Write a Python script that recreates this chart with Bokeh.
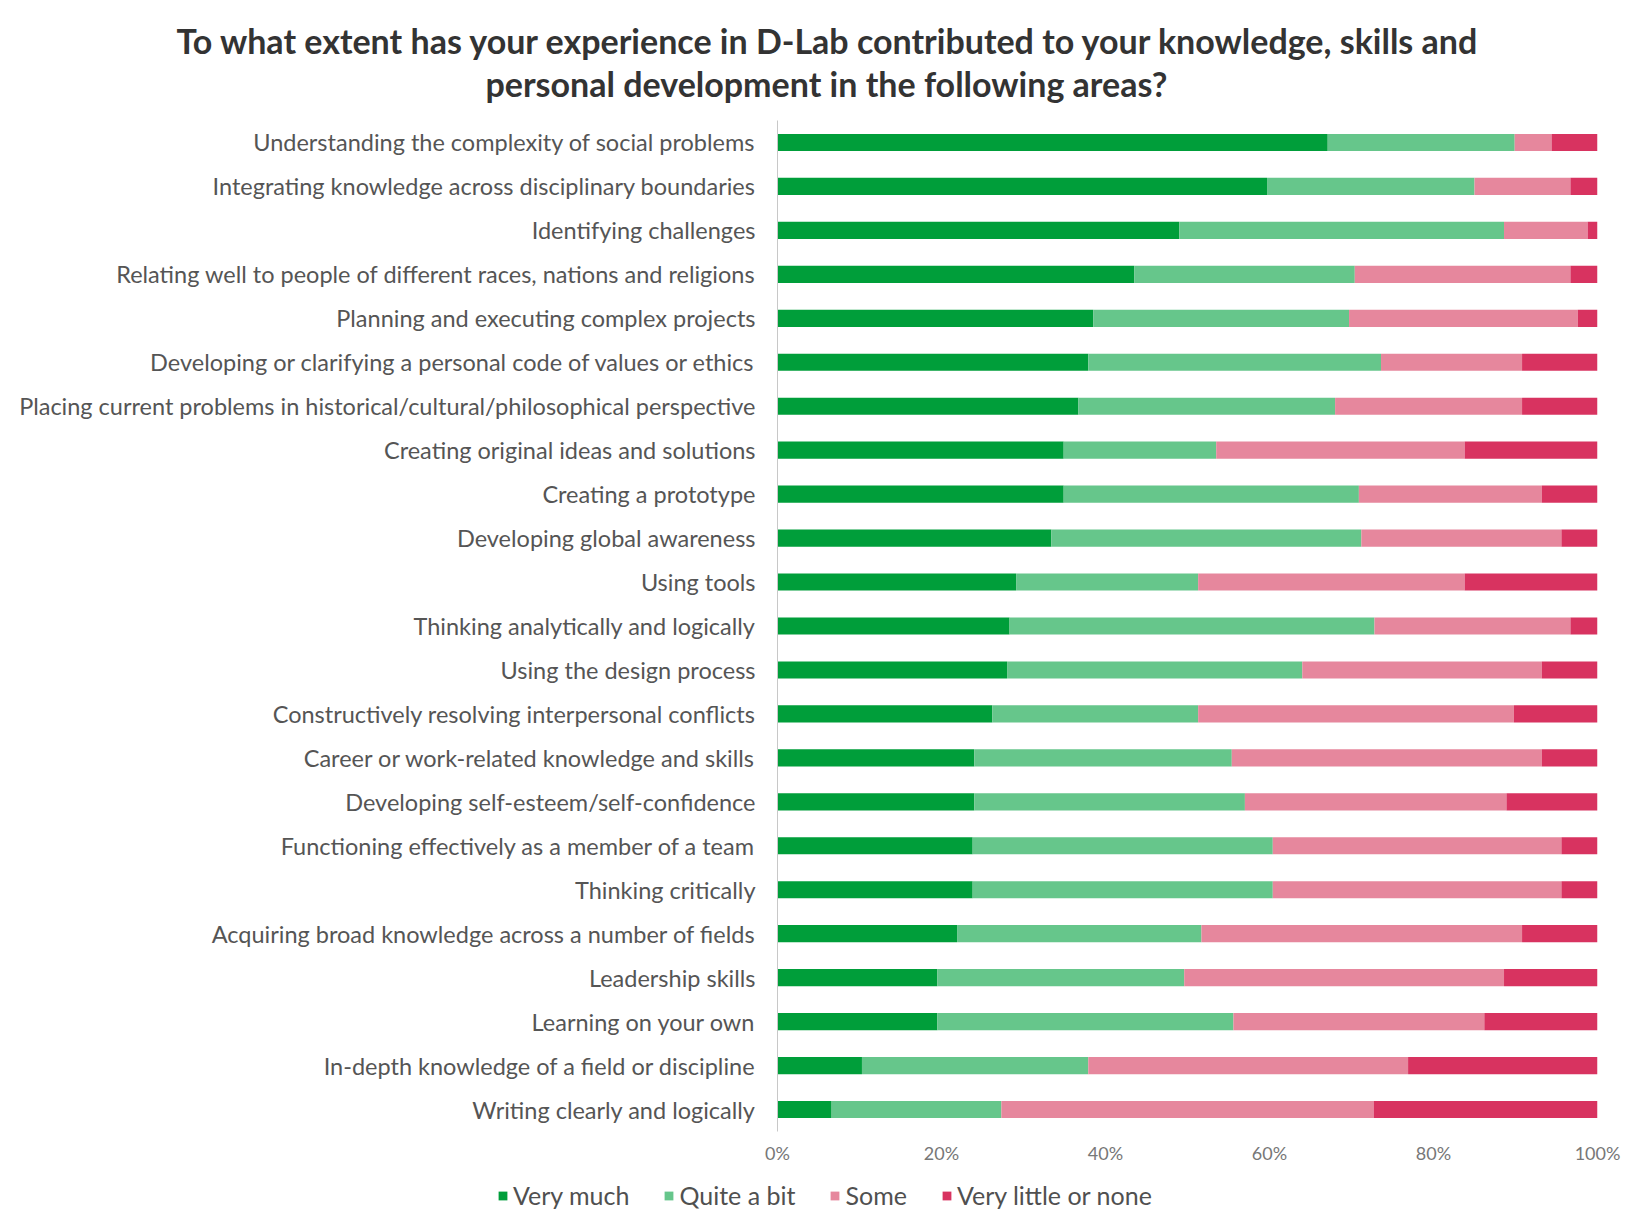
from bokeh.plotting import figure
from bokeh.layouts import column
from bokeh.models import (FactorRange, Range1d, FixedTicker, PrintfTickFormatter,
                          Title, Legend, LegendItem, ColumnDataSource)
from bokeh.embed import file_html
from bokeh.resources import INLINE

# ---------------- data (top row first) ----------------
areas = [
    "Understanding the complexity of social problems",
    "Integrating knowledge across disciplinary boundaries",
    "Identifying challenges",
    "Relating well to people of different races, nations and religions",
    "Planning and executing complex projects",
    "Developing or clarifying a personal code of values or ethics",
    "Placing current problems in historical/cultural/philosophical perspective",
    "Creating original ideas and solutions",
    "Creating a prototype",
    "Developing global awareness",
    "Using tools",
    "Thinking analytically and logically",
    "Using the design process",
    "Constructively resolving interpersonal conflicts",
    "Career or work-related knowledge and skills",
    "Developing self-esteem/self-confidence",
    "Functioning effectively as a member of a team",
    "Thinking critically",
    "Acquiring broad knowledge across a number of fields",
    "Leadership skills",
    "Learning on your own",
    "In-depth knowledge of a field or discipline",
    "Writing clearly and logically",
]
very_much = [67.1, 59.7, 49.0, 43.5, 38.5, 37.9, 36.7, 34.9, 34.9, 33.4, 29.1, 28.3,
             28.0, 26.2, 24.0, 24.0, 23.8, 23.8, 21.9, 19.5, 19.5, 10.3, 6.6]
quite_a_bit = [22.8, 25.3, 39.6, 26.9, 31.2, 35.7, 31.3, 18.6, 36.0, 37.8, 22.2, 44.5,
               36.0, 25.1, 31.4, 33.0, 36.6, 36.6, 29.8, 30.1, 36.1, 27.6, 20.7]
some = [4.5, 11.7, 10.2, 26.3, 27.9, 17.2, 22.8, 30.3, 22.3, 24.4, 32.5, 23.9,
        29.2, 38.5, 37.8, 31.9, 35.2, 35.2, 39.1, 39.0, 30.6, 39.0, 45.4]
very_little = [5.6, 3.3, 1.2, 3.3, 2.4, 9.2, 9.2, 16.2, 6.8, 4.4, 16.2, 3.3,
               6.8, 10.2, 6.8, 11.1, 4.4, 4.4, 9.2, 11.4, 13.8, 23.1, 27.3]
series = ["Very much", "Quite a bit", "Some", "Very little or none"]
x_ticks = [0, 20, 40, 60, 80, 100]
title_lines = ["To what extent has your experience in D-Lab contributed to your knowledge, skills and",
               "personal development in the following areas?"]

colors = ["#009E3A", "#66C68B", "#E6879D", "#D83360"]
keys = ["vm", "qb", "so", "vl"]

source = ColumnDataSource(dict(area=areas, vm=very_much, qb=quite_a_bit, so=some, vl=very_little))

W = 1634
p = figure(width=W, height=1170, output_backend="svg", toolbar_location=None,
           y_range=FactorRange(factors=areas[::-1]), x_range=Range1d(0, 100),
           min_border_left=777, min_border_right=37, min_border_top=120, min_border_bottom=39,
           outline_line_color=None, background_fill_color="white", border_fill_color="white")
p.frame_align = False
p.grid.visible = False

renderers = p.hbar_stack(keys, y="area", height=0.39, color=colors, line_color=None, source=source)

# y axis
yax = p.yaxis[0]
yax.axis_line_color = "#c8c8c8"
yax.axis_line_width = 1
yax.major_tick_line_color = None
yax.minor_tick_line_color = None
yax.major_label_text_font = "Lato"
yax.major_label_text_font_size = "23.5px"
yax.major_label_text_color = "#555555"
yax.major_label_standoff = 16

# x axis
xax = p.xaxis[0]
xax.axis_line_color = None
xax.major_tick_line_color = None
xax.minor_tick_line_color = None
xax.ticker = FixedTicker(ticks=x_ticks)
xax.formatter = PrintfTickFormatter(format="%d%%")
xax.major_label_text_font = "Lato"
xax.major_label_text_font_size = "18px"
xax.major_label_text_color = "#777777"
xax.major_label_standoff = 4

# title: two lines in the top panel (second line added first = closest to frame)
t2 = Title(text=title_lines[1], align="left", offset=-292, standoff=34, text_font="Lato",
           text_font_style="bold", text_font_size="34px", text_color="#333333")
t1 = Title(text=title_lines[0], align="left", offset=-601, standoff=-34, text_font="Lato",
           text_font_style="bold", text_font_size="34px", text_color="#333333")
p.add_layout(t2, "above")
p.add_layout(t1, "above")

# legend strip below the chart (swatches come from zero-height copies of the bars)
pl = figure(width=W, height=45, output_backend="svg", toolbar_location=None,
            x_range=Range1d(0, 100), y_range=FactorRange(factors=areas[::-1]),
            min_border_left=0, min_border_right=0, min_border_top=0, min_border_bottom=0,
            outline_line_color=None, background_fill_color="white", border_fill_color="white")
pl.frame_align = False
pl.axis.visible = False
pl.grid.visible = False
leg_renderers = pl.hbar_stack(keys, y="area", height=0.0, color=colors, line_color=None,
                              source=source)
legend = Legend(items=[LegendItem(label=s, renderers=[r]) for s, r in zip(series, leg_renderers)],
                location=(497, 5), orientation="horizontal", border_line_color=None,
                background_fill_alpha=0, padding=0, margin=0, spacing=34,
                glyph_width=11, glyph_height=11, label_standoff=5,
                label_text_font="Lato", label_text_font_size="25px", label_text_color="#505050")
pl.add_layout(legend, "center")

layout = column(p, pl, spacing=0)
open("out.html", "w").write(file_html(layout, INLINE))
